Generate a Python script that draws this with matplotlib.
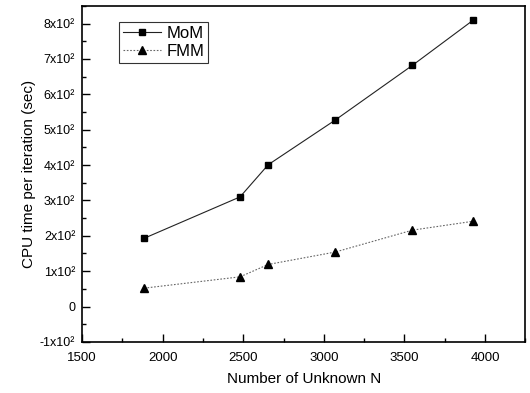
import matplotlib
matplotlib.use("Agg")
import matplotlib.pyplot as plt
from matplotlib.ticker import MultipleLocator, FixedLocator

plt.rcParams['font.family'] = ['Liberation Sans', 'DejaVu Sans']

# data
n_unknown = [1885, 2480, 2655, 3070, 3550, 3925]
mom_time = [193, 310, 401, 527, 682, 809]
fmm_time = [52, 84, 119, 154, 216, 241]

y_ticks = [-100, 0, 100, 200, 300, 400, 500, 600, 700, 800]
y_labels = ["-1x10²", "0", "1x10²", "2x10²", "3x10²", "4x10²",
            "5x10²", "6x10²", "7x10²", "8x10²"]

fig = plt.figure(figsize=(5.3, 3.93), dpi=100)
ax = fig.add_axes([0.155, 0.130, 0.836, 0.855])

ax.plot(n_unknown, mom_time, color="#222222", lw=0.8, ls="-",
        marker="s", ms=4.8, mfc="black", mec="black", label="MoM")
ax.plot(n_unknown, fmm_time, color="#666666", lw=0.8, ls=(0, (1.5, 1.5)),
        marker="^", ms=5.8, mfc="black", mec="black", label="FMM")

ax.set_xlim(1500, 4250)
ax.set_ylim(-100, 850)
ax.xaxis.set_major_locator(FixedLocator([1500, 2000, 2500, 3000, 3500, 4000]))
ax.xaxis.set_minor_locator(MultipleLocator(250))
ax.yaxis.set_major_locator(FixedLocator(y_ticks))
ax.set_yticklabels(y_labels)
ax.yaxis.set_minor_locator(MultipleLocator(50))

ax.tick_params(which="both", direction="in", top=False, right=False,
               width=1.0)
ax.tick_params(axis="x", labelsize=9.5, pad=7)
ax.tick_params(axis="y", labelsize=9, pad=5)
ax.tick_params(which="major", length=6)
ax.tick_params(which="minor", length=3)
for s in ax.spines.values():
    s.set_linewidth(1.2)

ax.set_xlabel("Number of Unknown N", fontsize=11, labelpad=6)
ax.set_ylabel("CPU time per iteration (sec)", fontsize=11, labelpad=3)

leg = ax.legend(loc="upper left", bbox_to_anchor=(0.083, 0.953), fontsize=12,
                frameon=True, fancybox=False, edgecolor="black",
                handlelength=2.3, handletextpad=0.3, borderpad=0.25,
                labelspacing=0.2, borderaxespad=0)
leg.get_frame().set_linewidth(0.8)

fig.savefig("out.png", dpi=100)
